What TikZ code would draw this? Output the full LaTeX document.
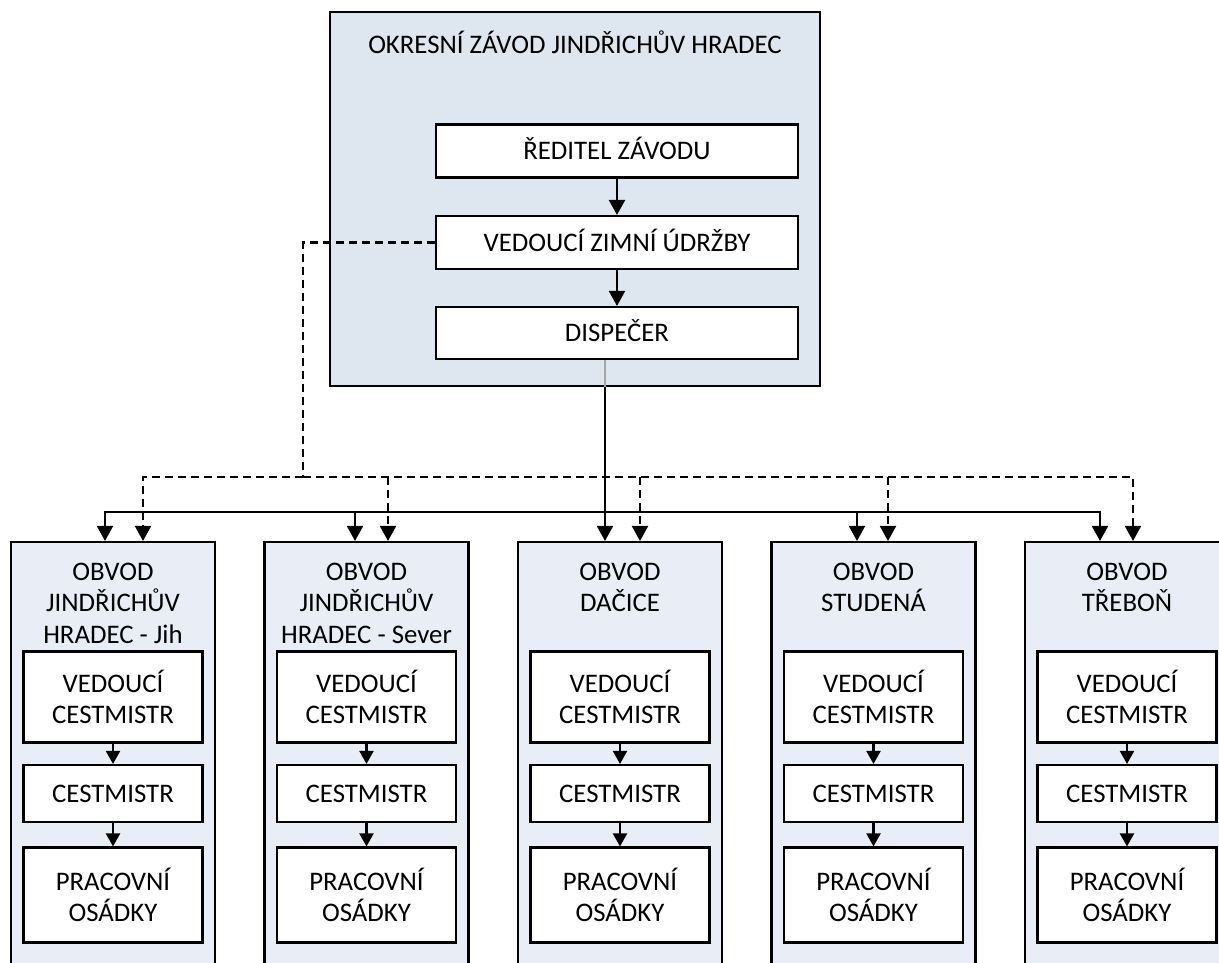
\documentclass[tikz,border=0pt]{standalone}
\usepackage{fontspec}
\setmainfont{Carlito}
\usetikzlibrary{arrows.meta}
\definecolor{topfill}{HTML}{DEE6F0}
\definecolor{colfill}{HTML}{E9EEF6}
\tikzset{
  cont/.style={draw=black, line width=2.1bp, fill=topfill, inner sep=0pt},
  colbox/.style={draw=black, line width=2.1bp, fill=colfill, inner sep=0pt, minimum width=204bp, minimum height=440bp},
  wbox/.style={draw=black, line width=2.1bp, fill=white, align=center, inner sep=0pt},
  one/.style={text height=17.2bp, text depth=0pt},
  lbl/.style={align=center, inner sep=0pt},
  conn/.style={line width=2.1bp},
  arr/.style={conn, -{Triangle[length=15bp,width=16bp]}},
  sarr/.style={conn, -{Triangle[length=13bp,width=14bp]}},
  dsh/.style={dash pattern=on 8bp off 5bp},
}
\begin{document}
\begin{tikzpicture}[x=1bp,y=-1bp, font=\fontsize{26.8bp}{31.3bp}\selectfont]
\useasboundingbox (0,0) rectangle (1219,963);
\clip (0,0) rectangle (1219,963);

% top container
\node[cont, minimum width=490bp, minimum height=374bp] (top) at (575,199) {};
\node[lbl, anchor=base] (ttl) at (575,53) {OKRESNÍ ZÁVOD JINDŘICHŮV HRADEC};
\node[wbox, one, minimum width=362bp, minimum height=53bp] (rz) at (617,151) {ŘEDITEL ZÁVODU};
\node[wbox, one, minimum width=362bp, minimum height=53bp] (vz) at (617,242.5) {VEDOUCÍ ZIMNÍ ÚDRŽBY};
\node[wbox, one, minimum width=362bp, minimum height=52bp] (disp) at (617,333) {DISPEČER};
\draw[arr] (rz) -- (vz);
\draw[arr] (vz) -- (disp);

% columns
\foreach \i/\L/\txt in {1/11/{OBVOD\\JINDŘICHŮV\\HRADEC - Jih},
                        2/264.5/{OBVOD\\JINDŘICHŮV\\HRADEC - Sever},
                        3/518/{OBVOD\\DAČICE},
                        4/771.5/{OBVOD\\STUDENÁ},
                        5/1025/{OBVOD\\TŘEBOŇ}}{
  \node[colbox] (c\i) at (\L+102,762) {};
  \node[lbl, anchor=north] (t\i) at (\L+102,563) {\txt};
  \node[wbox, minimum width=179bp, minimum height=91bp] (vc\i) at (\L+102,697) {VEDOUCÍ\\CESTMISTR};
  \node[wbox, one, minimum width=179bp, minimum height=57bp] (ce\i) at (\L+102,793.5) {CESTMISTR};
  \node[wbox, minimum width=179bp, minimum height=95bp] (po\i) at (\L+102,895) {PRACOVNÍ\\OSÁDKY};
  \draw[sarr] (vc\i) -- (ce\i);
  \draw[sarr] (ce\i) -- (po\i);
}

% solid bus from dispatcher
\coordinate (bs) at (605,512);
\coordinate (s1) at (105,512);
\coordinate (s2) at (355,512);
\coordinate (s4) at (857,512);
\coordinate (s5) at (1100,512);
\draw[arr] (disp.south -| bs) -- (c3.north -| bs);
\draw[conn, line width=1.5bp, draw=black!35] (disp.south -| bs) -- (top.south -| bs);
\draw[arr] (bs) -| (c1.north -| s1);
\draw[arr] (bs) -| (c5.north -| s5);
\draw[arr] (s2) -- (c2.north -| s2);
\draw[arr] (s4) -- (c4.north -| s4);

% dashed bus from winter maintenance lead
\coordinate (dj) at (303,477);
\coordinate (d1) at (143,477);
\coordinate (d2) at (388,477);
\coordinate (d3) at (640,477);
\coordinate (d4) at (888,477);
\coordinate (d5) at (1133,477);
\draw[conn, dsh] (vz.west) -| (dj);
\draw[arr, dsh] (dj) -| (c1.north -| d1);
\draw[arr, dsh] (dj) -| (c5.north -| d5);
\draw[arr, dsh] (d2) -- (c2.north -| d2);
\draw[arr, dsh] (d3) -- (c3.north -| d3);
\draw[arr, dsh] (d4) -- (c4.north -| d4);
\end{tikzpicture}
\end{document}
